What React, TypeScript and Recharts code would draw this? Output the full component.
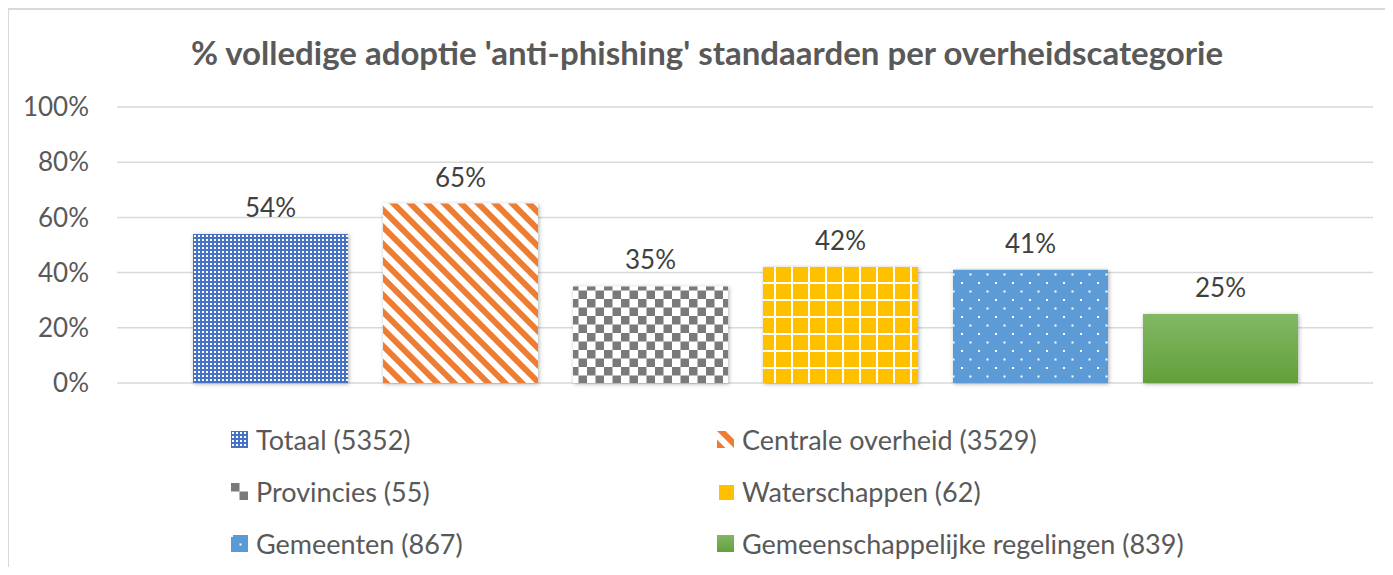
import { Bar, BarChart, CartesianGrid, LabelList, XAxis, YAxis } from 'recharts';

const title = "% volledige adoptie 'anti-phishing' standaarden per overheidscategorie";
const categories = [
  'Totaal (5352)',
  'Centrale overheid (3529)',
  'Provincies (55)',
  'Waterschappen (62)',
  'Gemeenten (867)',
  'Gemeenschappelijke regelingen (839)',
];
const values = [54, 65, 35, 42, 41, 25];
const yTicks = [0, 20, 40, 60, 80, 100];

const fills = [
  'url(#patTotaal)',
  'url(#patCentrale)',
  'url(#patProv)',
  'url(#patWater)',
  'url(#patGem)',
  'url(#gradGR)',
];

const keys = categories.map((_, i) => `s${i}`);
const row: Record<string, number | string> = { name: 'all' };
keys.forEach((k, i) => {
  row[k] = values[i];
});
const data = [row];

const FONT = 'Lato, "Open Sans", sans-serif';
const TEXT = '#595959';

function Defs() {
  return (
    <defs>
      <pattern id="patTotaal" width="4" height="4" patternUnits="userSpaceOnUse">
        <rect width="4" height="4" fill="#4472C4" />
        <rect x="1" y="1" width="2" height="2" fill="#ffffff" />
      </pattern>
      <pattern
        id="patCentrale"
        width="12"
        height="12"
        patternUnits="userSpaceOnUse"
        patternTransform="rotate(-45)"
      >
        <rect width="12" height="12" fill="#ffffff" />
        <rect width="6" height="12" fill="#ED7D31" />
      </pattern>
      <pattern id="patProv" width="17" height="17" patternUnits="userSpaceOnUse">
        <rect width="17" height="17" fill="#ffffff" />
        <rect width="8.5" height="8.5" fill="#7a7a7a" />
        <rect x="8.5" y="8.5" width="8.5" height="8.5" fill="#7a7a7a" />
      </pattern>
      <pattern id="patWater" width="17" height="17" patternUnits="userSpaceOnUse">
        <rect width="17" height="17" fill="#FFC000" />
        <rect width="2" height="17" fill="#ffffff" />
        <rect width="17" height="2" fill="#ffffff" />
      </pattern>
      <pattern id="patGem" width="17" height="17" patternUnits="userSpaceOnUse">
        <rect width="17" height="17" fill="#5B9BD5" />
        <rect x="0" y="0" width="2" height="2" fill="#ffffff" />
        <rect x="8.5" y="8.5" width="2" height="2" fill="#ffffff" />
      </pattern>
      <linearGradient id="gradGR" x1="0" y1="0" x2="0" y2="1">
        <stop offset="0%" stopColor="#81B865" />
        <stop offset="100%" stopColor="#62A03A" />
      </linearGradient>
      <filter id="barShadow" x="-10%" y="-10%" width="120%" height="120%">
        <feDropShadow dx="1" dy="1" stdDeviation="2" floodColor="#000000" floodOpacity="0.3" />
      </filter>
    </defs>
  );
}

export default function App() {
  return (
    <div
      style={{
        position: 'relative',
        width: 1385,
        height: 557,
        marginLeft: -1,
        borderLeft: '2px solid #d9d9d9',
        borderTop: '2px solid #d9d9d9',
        fontFamily: FONT,
        background: '#fff',
      }}
    >
      <div
        style={{
          position: 'absolute',
          top: 22,
          left: 0,
          width: 1396,
          textAlign: 'center',
          fontSize: 33,
          fontWeight: 700,
          color: TEXT,
          lineHeight: '40px',
        }}
      >
        {title}
      </div>
      <BarChart
        width={1385}
        height={400}
        data={data}
        margin={{ top: 97, right: 21, left: 18, bottom: 27 }}
        barSize={155}
        barGap={35}
      >
        <Defs />
        <CartesianGrid stroke="#d9d9d9" strokeWidth={1.5} vertical={false} />
        <XAxis dataKey="name" hide />
        <YAxis
          domain={[0, 100]}
          ticks={yTicks}
          interval={0}
          width={90}
          axisLine={false}
          tickLine={false}
          tickSize={0}
          tickMargin={28}
          tickFormatter={(v) => `${v}%`}
          tick={{ fontFamily: FONT, fontSize: 26, fill: TEXT }}
        />
        {keys.map((k, i) => (
          <Bar
            key={k}
            dataKey={k}
            name={categories[i]}
            fill={fills[i]}
            filter="url(#barShadow)"
            isAnimationActive={false}
          >
            <LabelList
              dataKey={k}
              position="top"
              offset={17}
              formatter={(v: number) => `${v}%`}
              style={{ fontFamily: FONT, fontSize: 26, fill: '#404040' }}
            />
          </Bar>
        ))}
      </BarChart>
      <div
        style={{
          position: 'absolute',
          top: 403,
          left: 222,
          display: 'grid',
          gridTemplateColumns: '486px 560px',
          rowGap: 0,
        }}
      >
        {categories.map((c, i) => (
          <div
            key={c}
            style={{ display: 'flex', alignItems: 'center', height: 52, fontSize: 27, color: TEXT }}
          >
            <svg width={17} height={17} style={{ marginRight: 8 }}>
              <rect width={17} height={17} fill={fills[i]} />
            </svg>
            <span>{c}</span>
          </div>
        ))}
      </div>
    </div>
  );
}
